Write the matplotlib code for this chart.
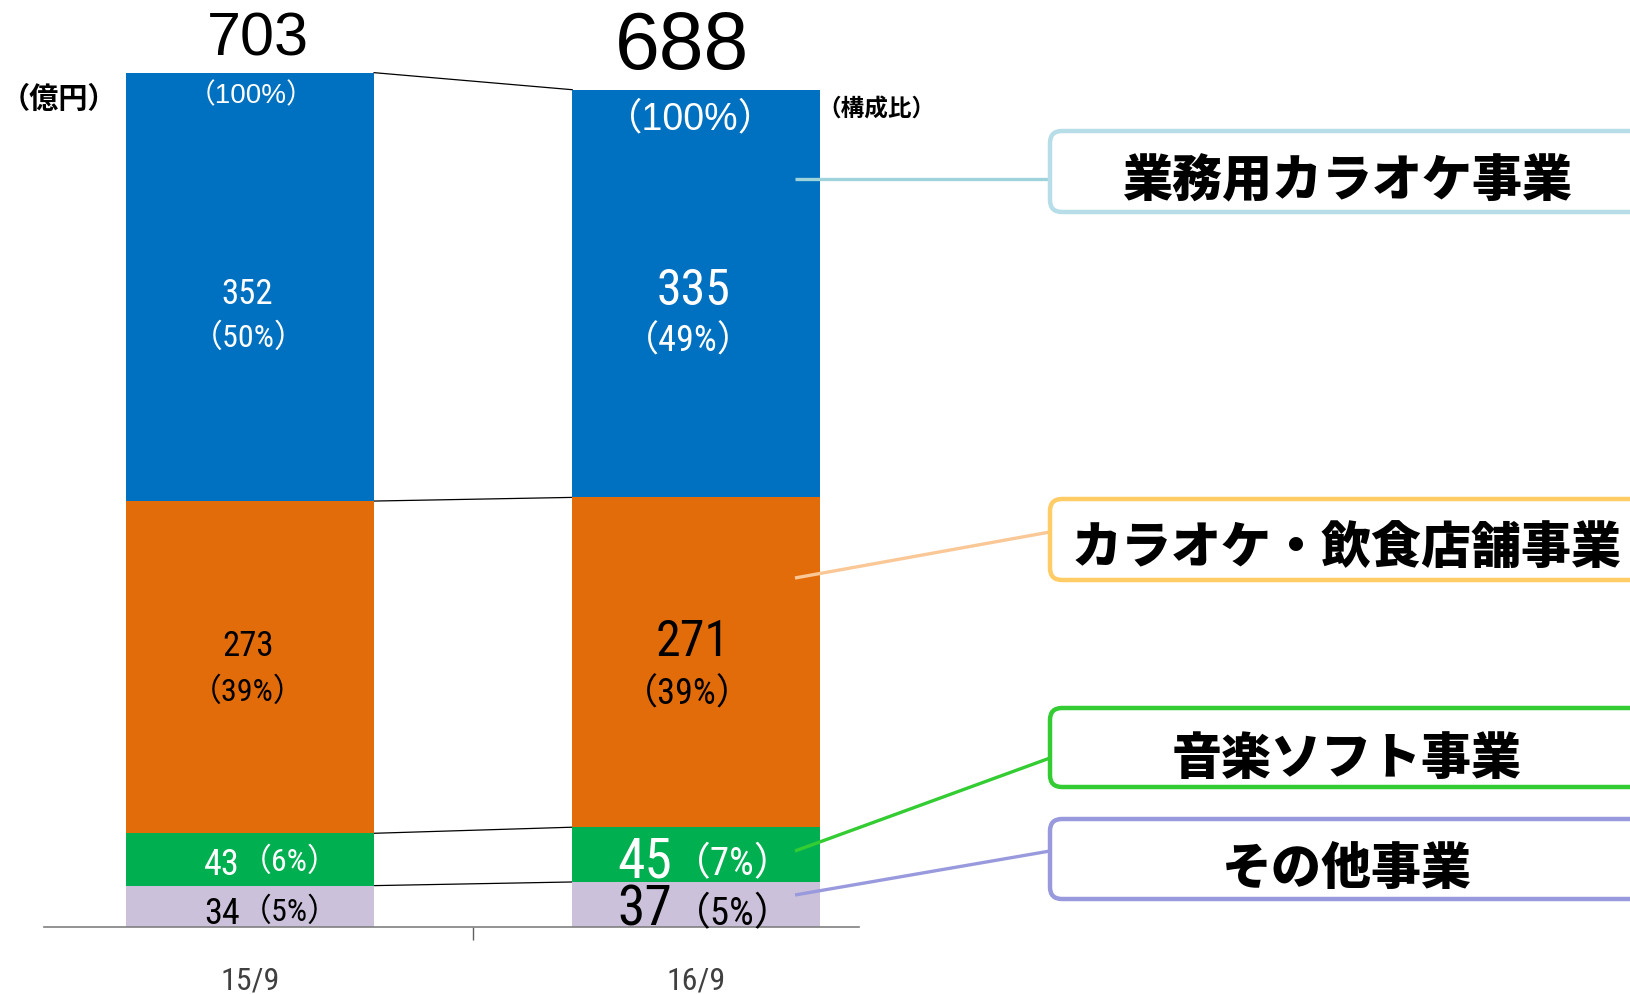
import matplotlib
matplotlib.use("Agg")
import matplotlib.pyplot as plt
import matplotlib.font_manager as fm
from matplotlib.patches import FancyBboxPatch
import numpy as np

# ---------------- data ----------------
periods = ["15/9", "16/9"]
totals = [703, 688]
other = [34, 37]          # その他事業
music = [43, 45]          # 音楽ソフト事業
store = [273, 271]        # カラオケ・飲食店舗事業
biz = [352, 335]          # 業務用カラオケ事業
pct_other = ["5%", "5%"]
pct_music = ["6%", "7%"]
pct_store = ["39%", "39%"]
pct_biz = ["50%", "49%"]
segments = ["その他事業", "音楽ソフト事業", "カラオケ・飲食店舗事業", "業務用カラオケ事業"]

# ---------------- fonts ----------------
names = {f.name for f in fm.fontManager.ttflist}
narrow_family = None
narrow_stretch = "normal"
for cand in ["Liberation Sans Narrow", "Roboto Condensed", "Open Sans Condensed",
             "DejaVu Sans Condensed", "Noto Sans Condensed", "Arial Narrow"]:
    if cand in names:
        narrow_family = cand
        break
if narrow_family is None:
    conds = [f for f in fm.fontManager.ttflist
             if (isinstance(f.stretch, str) and "condensed" in f.stretch)
             or (isinstance(f.stretch, (int, float)) and f.stretch < 500)]
    conds.sort(key=lambda f: (0 if f.weight in (400, "normal", "regular") else 1))
    if conds:
        narrow_family = conds[0].name
        narrow_stretch = conds[0].stretch
if narrow_family is None:
    narrow_family = "Roboto"

NARROW = [narrow_family, "Noto Sans CJK JP"]
ARIAL = ["Liberation Sans", "Noto Sans CJK JP"]
JP = ["Noto Sans CJK JP", "DejaVu Sans"]

# ---------------- style ----------------
C_BIZ = "#0070C0"
C_STORE = "#E36C0A"
C_MUSIC = "#00B050"
C_OTHER = "#CCC1DA"

W, H = 1630, 995
fig = plt.figure(figsize=(W / 100, H / 100), dpi=100)
base_px = 928
ax = fig.add_axes([44 / W, (H - base_px) / H, 815 / W, base_px / H])
ax.set_xlim(-0.462, 1.365)
ax.set_ylim(0, base_px / 1.217)

x = np.arange(len(periods))
bw = 0.556
stack = [other, music, store, biz]
colors = [C_OTHER, C_MUSIC, C_STORE, C_BIZ]
bottom = np.zeros(len(periods))
tops = []
for vals, col in zip(stack, colors):
    ax.bar(x, vals, bw, bottom=bottom, color=col, zorder=2)
    bottom = bottom + np.array(vals)
    tops.append(bottom.copy())

# connector lines between the two bars
for t in tops:
    ax.plot([x[0] + bw / 2, x[1] - bw / 2], [t[0], t[1]], color="black", lw=0.9, zorder=1)

# axes styling
for s in ["left", "right", "top"]:
    ax.spines[s].set_visible(False)
ax.spines["bottom"].set_color("#808080")
ax.spines["bottom"].set_linewidth(1.2)
ax.set_yticks([])
ax.set_xticks(x)
ax.set_xticklabels(periods, fontfamily=NARROW, fontstretch=narrow_stretch, fontsize=23, color="#404040")
ax.tick_params(axis="x", length=0, pad=28)
ax.set_xticks([0.5], minor=True)
ax.tick_params(axis="x", which="minor", length=9, width=1, color="#606060", direction="out")


def lab(xi, yv, text, dx, dy, size, color, family, ha="center", weight="normal"):
    ax.annotate(text, xy=(xi, yv), xytext=(dx, dy), textcoords="offset pixels",
                ha=ha, va="center", fontsize=size, color=color, fontfamily=family,
                fontstretch=(narrow_stretch if family is NARROW else "normal"),
                fontweight=weight, annotation_clip=False, zorder=5)


# totals above bars
lab(x[0], totals[0], str(totals[0]), 8, 32, 44, "black", ARIAL)
lab(x[1], totals[1], str(totals[1]), -14, 43, 58, "black", ARIAL)
# (100%)
lab(x[0], totals[0], "（100%）", 1, -24, 20, "white", ARIAL)
lab(x[1], totals[1], "（100%）", -6, -29, 27, "white", ARIAL)

# blue segment
mid_biz = [tops[2][i] + biz[i] / 2 for i in range(2)]
lab(x[0], mid_biz[0], str(biz[0]), -3, -7, 25, "white", NARROW)
lab(x[0], mid_biz[0], f"（{pct_biz[0]}）", -1, -50, 23, "white", NARROW)
lab(x[1], mid_biz[1], str(biz[1]), -3, 4, 36, "white", NARROW)
lab(x[1], mid_biz[1], f"（{pct_biz[1]}）", -8, -47, 26, "white", NARROW)

# orange segment
mid_store = [tops[1][i] + store[i] / 2 for i in range(2)]
lab(x[0], mid_store[0], str(store[0]), -2, 22, 25, "black", NARROW)
lab(x[0], mid_store[0], f"（{pct_store[0]}）", -2, -24, 23, "black", NARROW)
lab(x[1], mid_store[1], str(store[1]), -3, 21, 36, "black", NARROW)
lab(x[1], mid_store[1], f"（{pct_store[1]}）", -9, -31, 26, "black", NARROW)

# green segment
mid_music = [tops[0][i] + music[i] / 2 for i in range(2)]
lab(x[0], mid_music[0], str(music[0]), -10, -5, 26, "white", NARROW, ha="right")
lab(x[0], mid_music[0], f"（{pct_music[0]}）", -10, -1, 23, "white", NARROW, ha="left")
lab(x[1], mid_music[1], str(music[1]), -24, -6, 40, "white", NARROW, ha="right")
lab(x[1], mid_music[1], f"（{pct_music[1]}）", -24, -9, 28, "white", NARROW, ha="left")

# purple segment
mid_other = [other[i] / 2 for i in range(2)]
lab(x[0], mid_other[0], str(other[0]), -10, -7, 26, "black", NARROW, ha="right")
lab(x[0], mid_other[0], f"（{pct_other[0]}）", -10, -4, 23, "black", NARROW, ha="left")
lab(x[1], mid_other[1], str(other[1]), -24, -5, 40, "black", NARROW, ha="right")
lab(x[1], mid_other[1], f"（{pct_other[1]}）", -24, -9, 28, "black", NARROW, ha="left")

# ---------------- overlay (callouts, unit labels) ----------------
ov = fig.add_axes([0, 0, 1, 1], zorder=10)
ov.set_xlim(0, W)
ov.set_ylim(H, 0)
ov.axis("off")
ov.patch.set_alpha(0)

ov.text(59, 99, "（億円）", ha="center", va="center", fontsize=21, fontweight="bold", fontfamily=JP)
ov.text(876, 110, "（構成比）", ha="center", va="center", fontsize=17, fontweight="bold", fontfamily=JP)

boxes = [
    (segments[3], 132, 213, "#B7DEE8", "#9FD3DC", (795, 180), (1050, 180), 181),
    (segments[2], 500, 581, "#FFCC66", "#FAC896", (795, 579), (1050, 533), 549),
    (segments[1], 709, 788, "#33CC33", "#33CC33", (795, 852), (1050, 759), 759),
    (segments[0], 820, 900, "#9999DD", "#9999DD", (795, 896), (1050, 852), 869),
]
for name, y0, y1, ec, lc, p0, p1, ty in boxes:
    ov.plot([p0[0], p1[0]], [p0[1], p1[1]], color=lc, lw=2.4, solid_capstyle="butt", zorder=3)
    box = FancyBboxPatch((1050, y0), 640, y1 - y0,
                         boxstyle="round,pad=0,rounding_size=12",
                         fc="white", ec=ec, lw=3.2, zorder=4, clip_on=False)
    ov.add_patch(box)
    ov.text(1347, ty, name, ha="center", va="center", fontsize=36, fontweight="black",
            fontfamily=JP, zorder=5)

fig.savefig("out.png", dpi=100)
